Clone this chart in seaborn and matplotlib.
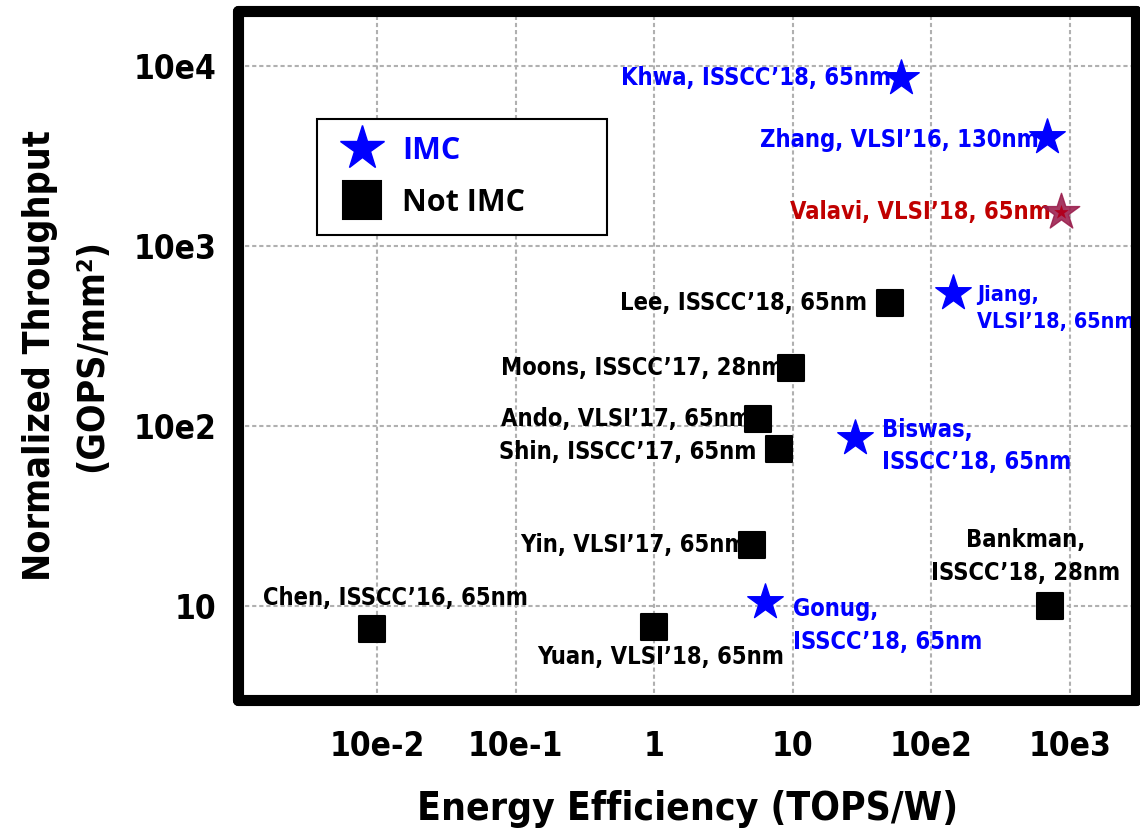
import matplotlib
matplotlib.use("Agg")
import matplotlib.pyplot as plt
from matplotlib import font_manager as fm
from matplotlib.lines import Line2D
from matplotlib.ticker import FixedLocator, FixedFormatter, NullLocator
import pandas as pd
import seaborn as sns

# ---- data -------------------------------------------------------------
names = ["Khwa, ISSCC\u201918, 65nm", "Zhang, VLSI\u201916, 130nm",
         "Jiang,\nVLSI\u201918, 65nm", "Biswas,\nISSCC\u201918, 65nm",
         "Gonug,\nISSCC\u201918, 65nm",
         "Lee, ISSCC\u201918, 65nm", "Moons, ISSCC\u201917, 28nm",
         "Ando, VLSI\u201917, 65nm", "Shin, ISSCC\u201917, 65nm",
         "Yin, VLSI\u201917, 65nm", "Bankman,\nISSCC\u201918, 28nm",
         "Chen, ISSCC\u201916, 65nm", "Yuan, VLSI\u201918, 65nm"]
efficiency = [60, 680, 144, 28, 6.3,
              50, 9.7, 5.65, 7.9, 5.1, 720, 0.0092, 1.0]
throughput = [8600, 4000, 550, 86, 10.5,
              485, 210, 110, 75, 22, 10, 7.5, 7.7]
kind = ["IMC"] * 5 + ["Not IMC"] * 8

highlight_name = "Valavi, VLSI\u201918, 65nm"
highlight_eff = [866]
highlight_thr = [1550]

x_ticks = [0.01, 0.1, 1, 10, 100, 1000]
x_tick_labels = ["10e-2", "10e-1", "1", "10", "10e2", "10e3"]
y_ticks = [10, 100, 1000, 10000]
y_tick_labels = ["10", "10e2", "10e3", "10e4"]

# label placement (offset in pixels, horizontal alignment, font size)
label_offsets = [(-9, 0, "right", 17), (-8, -3, "right", 17),
                 (24, -16, "left", 15.5),
                 (27, -8, "left", 17), (28, -23, "left", 17),
                 (-23, 0, "right", 17), (-7, 0, "right", 17),
                 (-7, 0, "right", 17), (-22, -3, "right", 17),
                 (-6, 0, "right", 17), (-25, 50, "center", 17),
                 (23, 31, "center", 17), (6, -30, "center", 17)]

df = pd.DataFrame({"name": names, "eff": efficiency, "thr": throughput,
                   "kind": kind})

# ---- style ------------------------------------------------------------
sns.set_theme(style="white")
available = {f.name for f in fm.fontManager.ttflist}
narrow = next((n for n in ["Liberation Sans Narrow", "Arial Narrow"]
               if n in available), None)
if narrow:
    cond_font = dict(family=narrow, weight="bold")
else:
    cond_font = dict(family="DejaVu Sans", weight="bold", stretch="condensed")
plt.rcParams["font.family"] = [cond_font["family"], "DejaVu Sans"]
plt.rcParams["text.color"] = "black"
plt.rcParams["axes.labelcolor"] = "black"

BLUE = "#0000FF"
RED_TEXT = "#C00000"
colors = {"IMC": BLUE, "Not IMC": "black"}

fig = plt.figure(figsize=(11.4, 8.38), dpi=100)
ax = fig.add_axes([0.2092, 0.1641, 0.7873, 0.8222])
ax.set_xscale("log")
ax.set_yscale("log")
ax.set_xlim(1e-3, 3000)
ax.set_ylim(3, 20000)

# squares
sq = df[df.kind == "Not IMC"]
sns.scatterplot(data=sq, x="eff", y="thr", marker="s", s=350, color="black",
                edgecolor="black", linewidth=1.5, ax=ax, zorder=4, legend=False)
# stars
st = df[df.kind == "IMC"]
sns.scatterplot(data=st, x="eff", y="thr", marker="*", s=720, color=BLUE,
                edgecolor=BLUE, linewidth=1.0, ax=ax, zorder=4, legend=False)
for coll in ax.collections:
    coll.set_joinstyle("round")

# highlighted design
ax.scatter(highlight_eff, highlight_thr, marker="*", s=760, color="#9A1D4C",
           alpha=0.88, edgecolor="#9A1D4C", linewidth=1.0, zorder=4)
ax.scatter(highlight_eff, highlight_thr, marker="*", s=120, color="#B0001E",
           linewidth=0, zorder=4)

# text labels
for (nm, x, y, k), (dx, dy, ha, fs) in zip(
        zip(names, efficiency, throughput, kind), label_offsets):
    ax.annotate(nm, (x, y), xytext=(dx, dy), textcoords="offset pixels",
                ha=ha, va="center", ma=ha, fontsize=fs, linespacing=1.45,
                color=colors[k], zorder=3, **cond_font)
ax.annotate(highlight_name, (highlight_eff[0], highlight_thr[0]),
            xytext=(-10, 0), textcoords="offset pixels", ha="right",
            va="center", fontsize=17, color=RED_TEXT, zorder=3, **cond_font)

# grid & ticks
ax.xaxis.set_major_locator(FixedLocator(x_ticks))
ax.xaxis.set_major_formatter(FixedFormatter(x_tick_labels))
ax.yaxis.set_major_locator(FixedLocator(y_ticks))
ax.yaxis.set_major_formatter(FixedFormatter(y_tick_labels))
ax.xaxis.set_minor_locator(NullLocator())
ax.yaxis.set_minor_locator(NullLocator())
ax.grid(True, which="major", color="#B0B0B0", linewidth=1.5,
        linestyle=(0, (2.0, 1.4)))
ax.set_axisbelow(True)
ax.tick_params(axis="both", length=0, labelsize=24, labelcolor="black")
ax.tick_params(axis="x", pad=21)
ax.tick_params(axis="y", pad=16)
for lab in ax.get_xticklabels() + ax.get_yticklabels():
    lab.set_fontweight("bold")
    if not narrow:
        lab.set_fontstretch("condensed")

for sp in ax.spines.values():
    sp.set_visible(True)
    sp.set_linewidth(8)
    sp.set_color("black")
    sp.set_capstyle("round")
    sp.set_zorder(6)

ax.set_xlabel("Energy Efficiency (TOPS/W)", fontsize=28, va="center",
              color="black", **cond_font)
ax.xaxis.set_label_coords(0.5, -0.158)
ax.set_ylabel("Normalized Throughput\n(GOPS/mm\u00b2)", fontsize=27,
              va="center", linespacing=1.55, color="black", **cond_font)
ax.yaxis.set_label_coords(-0.192, 0.5)

# legend
handles = [Line2D([], [], linestyle="none", marker="*", markersize=33,
                  color=BLUE, markeredgewidth=1.0),
           Line2D([], [], linestyle="none", marker="s", markersize=27,
                  color="black", markeredgewidth=1.5)]
leg_w, leg_h = 0.323, 0.166
leg = ax.legend(handles, ["IMC", "Not IMC"], loc="upper left",
                bbox_to_anchor=(0.0871, 0.844 - leg_h, leg_w, leg_h),
                mode="expand", borderaxespad=0,
                frameon=True, fancybox=False, framealpha=1, edgecolor="black",
                borderpad=0.55, labelspacing=0.72, handlelength=1.9,
                handletextpad=0.35,
                prop=dict(family="Open Sans", weight="bold", size=22))
leg.get_frame().set_linewidth(1.5)
for t, c in zip(leg.get_texts(), [BLUE, "black"]):
    t.set_color(c)

fig.savefig("out.png", dpi=100, facecolor="white")
